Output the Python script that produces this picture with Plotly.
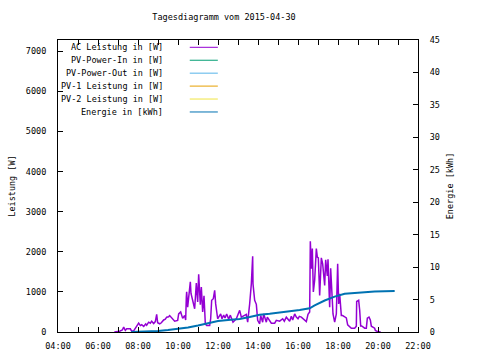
import plotly.graph_objects as go

DATE = "2015-04-30"

# AC Leistung [W]
ac_time = ["06:49","06:59","07:05","07:13","07:17","07:22","07:26","07:37","07:41","07:47",
           "07:53","07:56","08:02","08:07","08:11","08:17","08:23","08:26","08:32","08:37",
           "08:41","08:47","08:52","08:56","08:59","09:05","09:10","09:17","09:22","09:26",
           "09:32","09:35","09:44","09:50","09:59","10:02","10:08","10:14","10:20","10:23",
           "10:25","10:26","10:29","10:33","10:37","10:39","10:44","10:50","10:55","10:59",
           "11:02","11:07","11:10","11:14","11:18","11:22","11:26","11:35","11:38","11:41",
           "11:46","11:50","11:53","11:56","11:59","12:02","12:08","12:12","12:17","12:21",
           "12:26","12:32","12:37","12:45","12:55","13:05","13:10","13:25","13:29","13:35",
           "13:40","13:44","13:45","13:50","13:55","13:59","14:05","14:08","14:14","14:17",
           "14:25","14:28","14:35","14:40","14:50","14:55","15:05","15:14","15:19","15:25",
           "15:35","15:40","15:44","15:50","15:55","16:00","16:04","16:10","16:25","16:30",
           "16:35","16:37","16:40","16:43","16:46","16:50","16:55","16:58","17:01","17:05",
           "17:10","17:14","17:20","17:23","17:28","17:30","17:35","17:38","17:45","17:50",
           "17:55","17:59","18:02","18:05","18:10","18:14","18:20","18:25","18:29","18:35",
           "18:40","18:50","18:55","18:56","19:02","19:05","19:08","19:11","19:15","19:20",
           "19:25","19:28","19:33","19:37","19:40","19:45","19:50","19:52","19:59","20:08"]
ac_watt = [0,10,20,50,120,40,80,80,20,30,
           120,140,220,160,180,140,200,170,245,220,
           270,210,260,440,230,205,230,300,320,370,
           380,410,320,270,290,450,500,340,410,300,
           870,1000,620,960,1250,960,750,580,1220,750,
           1440,680,1120,500,900,200,160,160,330,790,
           830,1040,700,540,330,370,450,330,420,350,
           450,320,420,245,330,540,370,440,245,700,
           1200,1890,1200,790,690,290,205,410,245,450,
           245,370,290,220,220,290,270,330,270,370,
           270,390,300,450,370,330,390,370,260,440,
           500,2260,1580,2080,1000,1290,2080,1870,1850,910,
           1850,1700,1160,1800,1400,1810,620,1590,450,245,
           450,1700,700,950,410,410,380,350,180,145,
           95,95,145,760,790,550,150,150,120,95,
           95,345,370,300,145,120,95,40,10,0]

# Energie [kWh]
en_time = ["07:40","08:30","09:00","09:30","10:00","10:30","11:00","11:30","12:00","12:30",
           "13:05","13:35","14:05","14:35","15:05","15:35","16:05","16:35","16:50","17:20",
           "17:50","18:20","18:50","19:20","19:50","20:50"]
en_kwh = [0,0.05,0.15,0.3,0.45,0.7,1.0,1.35,1.7,1.85,
          2.0,2.3,2.65,2.8,3.05,3.2,3.4,3.65,4.1,4.85,
          5.45,5.9,6.0,6.1,6.25,6.3]

legend_names = ["AC Leistung in [W]", "PV-Power-In in [W]", "PV-Power-Out in [W]",
                "PV-1 Leistung in [W]", "PV-2 Leistung in [W]", "Energie in [kWh]"]
legend_colors = ["#9400d3", "#009e73", "#56b4e9", "#e69f00", "#f0e442", "#0072b2"]

x_ticks = ["04:00","06:00","08:00","10:00","12:00","14:00","16:00","18:00","20:00","22:00"]

FONT = "DejaVu Sans Mono"

def dt(t):
    return f"{DATE} {t}"

fig = go.Figure()
fig.add_trace(go.Scatter(x=[dt(t) for t in ac_time], y=ac_watt, mode="lines",
                         line=dict(color=legend_colors[0], width=1.5), name=legend_names[0],
                         yaxis="y"))
fig.add_trace(go.Scatter(x=[dt(t) for t in en_time], y=en_kwh, mode="lines",
                         line=dict(color=legend_colors[5], width=2), name=legend_names[5],
                         yaxis="y2"))

# custom gnuplot-style legend (text right-aligned, sample line to the right)
row0 = 0.975
drow = 0.0443
for i, (nm, col) in enumerate(zip(legend_names, legend_colors)):
    yy = row0 - i * drow
    fig.add_annotation(xref="paper", yref="paper", x=0.296, y=yy, text=nm, showarrow=False,
                       xanchor="right", yanchor="middle",
                       font=dict(family=FONT, size=8.5, color="black"))
    fig.add_shape(type="line", xref="paper", yref="paper", x0=0.366, x1=0.444, y0=yy, y1=yy,
                  line=dict(color=col, width=1))

fig.update_layout(
    width=480, height=360,
    margin=dict(l=58, r=62, t=40, b=28, autoexpand=False),
    paper_bgcolor="white", plot_bgcolor="white",
    showlegend=False,
    font=dict(family=FONT, size=8.5, color="black"),
    title=dict(text="Tagesdiagramm vom 2015-04-30", x=0.4667, xanchor="center",
               y=0.953, yanchor="middle", font=dict(family=FONT, size=8.5)),
    xaxis=dict(type="date", range=[dt("04:00"), dt("22:00")], automargin=False,
               tickvals=[dt(t) for t in x_ticks], ticktext=x_ticks,
               ticks="inside", ticklen=5, tickcolor="black",
               minor=dict(dtick=3600000, ticks="inside", ticklen=3, tickcolor="black"),
               showline=True, linecolor="black", linewidth=1, mirror="allticks",
               showgrid=False, zeroline=False, ticklabelstandoff=6),
    yaxis=dict(range=[0, 7280], dtick=1000, ticks="inside", ticklen=5, tickcolor="black",
               showline=True, linecolor="black", linewidth=1, mirror=False, automargin=False,
               showgrid=False, zeroline=False, ticklabelstandoff=9,
               title=dict(text="Leistung [W]", standoff=8, font=dict(family=FONT, size=8.5))),
    yaxis2=dict(range=[0, 45], dtick=5, overlaying="y", side="right", automargin=False,
                ticks="inside", ticklen=5, tickcolor="black",
                showline=True, linecolor="black", linewidth=1,
                showgrid=False, zeroline=False, ticklabelstandoff=9,
                title=dict(text="Energie [kWh]", standoff=8, font=dict(family=FONT, size=8.5))),
)

fig.write_html("out.html", config={"displayModeBar": False},
               post_script="document.body.style.margin='0px';")
